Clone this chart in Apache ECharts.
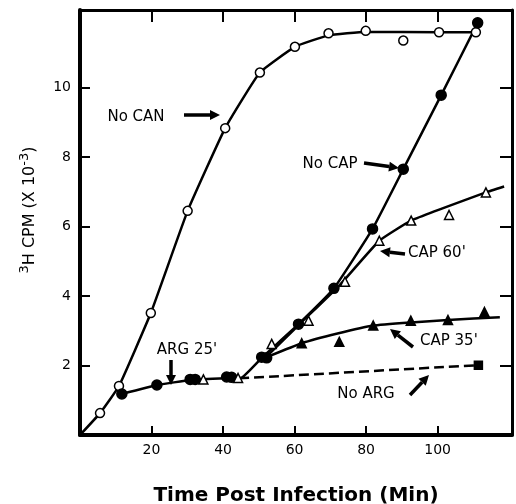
<!DOCTYPE html>
<html>
<head>
<meta charset="utf-8">
<script src="https://cdn.jsdelivr.net/npm/echarts@6/dist/echarts.min.js"></script>
<style>
  html, body { margin: 0; padding: 0; background: #fff; }
  #chart { width: 516px; height: 504px; }
</style>
</head>
<body>
<div id="chart"></div>
<script>
// tick labels
const xTicks = [20, 40, 60, 80, 100];
const yTicks = [2, 4, 6, 8, 10];

// measured points [min, cpm x 10^-3]
const noCanPts = [[5.6, 0.63], [10.9, 1.41], [19.8, 3.51], [30.1, 6.45], [40.6, 8.83], [50.3, 10.43],
  [60.1, 11.17], [69.5, 11.56], [79.9, 11.63], [90.4, 11.35], [100.4, 11.59], [110.7, 11.59]];
const noCapPts = [[11.7, 1.18], [21.5, 1.44], [30.8, 1.6], [32.2, 1.6], [41, 1.67], [42.4, 1.66],
  [50.8, 2.24], [52.2, 2.22], [61.1, 3.19], [71, 4.22], [81.8, 5.93], [90.4, 7.65], [101, 9.78], [111.2, 11.86]];
const cap60Pts = [[34.5, 1.6], [44.2, 1.64], [53.6, 2.62], [63.9, 3.29], [74.1, 4.41], [83.7, 5.59],
  [92.6, 6.17], [103.2, 6.33], [113.5, 6.98]];
const cap35Pts = [[62, 2.64], [72.5, 2.68], [82, 3.15], [92.5, 3.29], [102.9, 3.31], [113.1, 3.54]];
const noArgPts = [[111.4, 2.01]];

// drawn curves (fitted by hand in the original)
const noCanCurve = [[0, 0], [5.6, 0.63], [10.9, 1.41], [19.8, 3.51], [30.1, 6.45], [40.6, 8.83], [50.3, 10.43],
  [60.1, 11.17], [69.5, 11.5], [79.9, 11.6], [100.4, 11.59], [110.7, 11.59]];
const noCapCurve = [[11.7, 1.18], [21.5, 1.44], [31, 1.58], [41, 1.63], [45, 1.64], [51, 2.24], [61.1, 3.19],
  [71, 4.22], [81.8, 5.93], [90.4, 7.65], [101, 9.78], [111.2, 11.86]];
const cap60Curve = [[52, 2.24], [62, 3.25], [72.5, 4.3], [83.7, 5.59], [92.6, 6.17], [113.5, 6.98], [118.6, 7.15]];
const cap35Curve = [[52.2, 2.24], [62, 2.64], [72, 2.92], [82, 3.15], [92.5, 3.24], [102.9, 3.31], [117.4, 3.39]];
const noArgCurve = [[44.5, 1.63], [111.4, 2.01]];

const FONT = 'DejaVu Sans';

// labels with arrows (pixel positions)
const notes = [
  { text: 'No CAN', x: 136, y: 117, align: 'center', arrow: [184, 115, 220, 115] },
  { text: 'No CAP', x: 330, y: 164, align: 'center', arrow: [364, 163, 399, 168] },
  { text: "CAP 60'", x: 408, y: 253, align: 'left', arrow: [405, 254, 380, 251] },
  { text: "CAP 35'", x: 420, y: 341, align: 'left', arrow: [413, 347, 390, 329] },
  { text: 'No ARG', x: 366, y: 394, align: 'center', arrow: [410, 395, 429, 375] },
  { text: "ARG 25'", x: 187, y: 350, align: 'center', arrow: [171, 360, 171, 385] }
];

function arrow(x1, y1, x2, y2) {
  const dx = x2 - x1, dy = y2 - y1, L = Math.hypot(dx, dy);
  const ux = dx / L, uy = dy / L, hl = 10, hw = 5;
  const bx = x2 - ux * hl, by = y2 - uy * hl;
  return [
    { type: 'line', shape: { x1: x1, y1: y1, x2: bx, y2: by }, style: { stroke: '#000', lineWidth: 3.5 } },
    { type: 'polygon', shape: { points: [[x2, y2], [bx - uy * hw, by + ux * hw], [bx + uy * hw, by - ux * hw]] },
      style: { fill: '#000' } }
  ];
}

const graphic = [];
notes.forEach(function (n) {
  graphic.push({ type: 'text', x: n.x, y: n.y,
    style: { text: n.text, fontSize: 15, fontFamily: FONT, fill: '#000', align: n.align, verticalAlign: 'middle' } });
  arrow.apply(null, n.arrow).forEach(function (g) { graphic.push(g); });
});
graphic.push({
  type: 'text', x: 30, y: 210, rotation: Math.PI / 2,
  style: {
    text: '{sup|3}H CPM (X 10{sup|-3})', fontSize: 16, fontFamily: FONT, fill: '#000',
    align: 'center', verticalAlign: 'middle',
    rich: { sup: { fontSize: 13, fontFamily: FONT, fill: '#000', padding: [0, 0, 10, 0] } }
  }
});

const axisCommon = { type: 'value', splitLine: { show: false } };
function lineSeries(data, dashed) {
  return { type: 'line', data: data, showSymbol: false, symbol: 'none', smooth: 0.12, z: 2,
    lineStyle: { color: '#000', width: 2.5, type: dashed ? [10, 5] : 'solid' } };
}
function markSeries(data, symbol, size, filled) {
  return { type: 'scatter', data: data, symbol: symbol, symbolSize: size, z: 5,
    itemStyle: { color: filled ? '#000' : '#fff', borderColor: '#000', borderWidth: 1.5, opacity: 1 } };
}

const chart = echarts.init(document.getElementById('chart'), null, { renderer: 'canvas' });
chart.setOption({
  animation: false,
  backgroundColor: '#fff',
  grid: { left: 80, right: 4, top: 10, bottom: 69, containLabel: false, outerBoundsMode: 'none' },
  xAxis: [
    Object.assign({}, axisCommon, {
      min: 0, max: 120.8, position: 'bottom',
      axisLine: { show: true, onZero: false, lineStyle: { color: '#000', width: 4 } },
      axisTick: { show: true, inside: true, length: 9, customValues: xTicks, lineStyle: { color: '#000', width: 2 } },
      axisLabel: { customValues: xTicks, margin: 8, fontSize: 14, fontFamily: FONT, color: '#000' },
      name: 'Time Post Infection (Min)', nameLocation: 'middle', nameGap: 51,
      nameTextStyle: { fontSize: 20, fontWeight: 'bold', fontFamily: FONT, color: '#000' }
    }),
    Object.assign({}, axisCommon, {
      min: 0, max: 120.8, position: 'top',
      axisLine: { show: true, onZero: false, lineStyle: { color: '#000', width: 3 } },
      axisTick: { show: true, inside: true, length: 12, customValues: xTicks, lineStyle: { color: '#000', width: 2 } },
      axisLabel: { show: false }
    })
  ],
  yAxis: [
    Object.assign({}, axisCommon, {
      min: 0, max: 12.23, position: 'left',
      axisLine: { show: true, onZero: false, lineStyle: { color: '#000', width: 4 } },
      axisTick: { show: true, inside: true, length: 10, customValues: yTicks, lineStyle: { color: '#000', width: 2 } },
      axisLabel: { customValues: yTicks, margin: 9, fontSize: 14, fontFamily: FONT, color: '#000' }
    }),
    Object.assign({}, axisCommon, {
      min: 0, max: 12.23, position: 'right',
      axisLine: { show: true, onZero: false, lineStyle: { color: '#000', width: 3 } },
      axisTick: { show: true, inside: true, length: 12, customValues: yTicks, lineStyle: { color: '#000', width: 2 } },
      axisLabel: { show: false }
    })
  ],
  series: [
    lineSeries(noCanCurve),
    lineSeries(noCapCurve),
    lineSeries(cap60Curve),
    lineSeries(cap35Curve),
    lineSeries(noArgCurve, true),
    markSeries(noCanPts, 'circle', 9, false),
    markSeries(noCapPts, 'circle', 10, true),
    markSeries(cap60Pts, 'triangle', 9, false),
    markSeries(cap35Pts, 'triangle', 9, true),
    markSeries(noArgPts, 'rect', 8, true)
  ],
  graphic: graphic
});
</script>
</body>
</html>
